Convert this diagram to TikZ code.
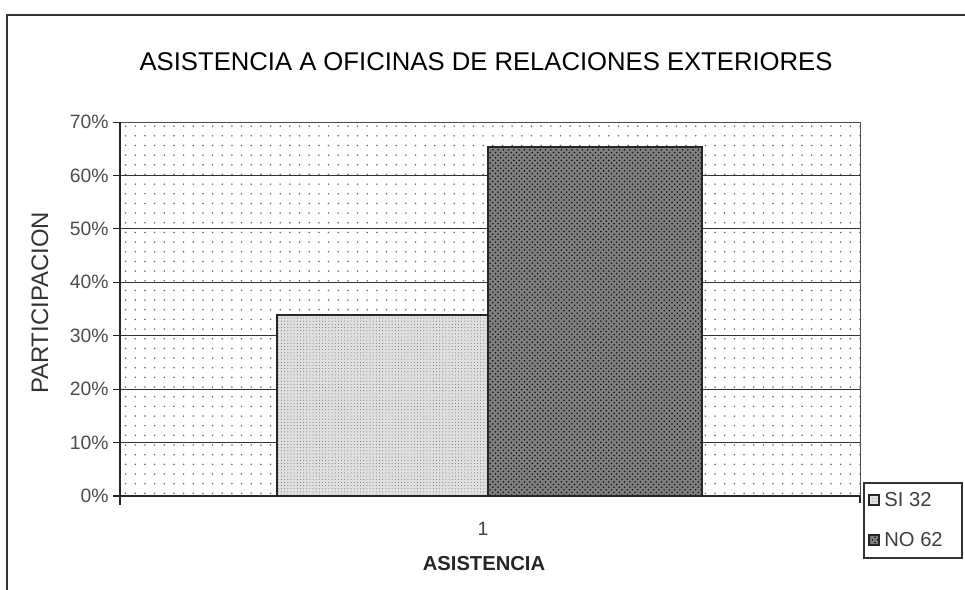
\documentclass[tikz,border=0pt]{standalone}
\usepackage{fontspec}
\setmainfont{Liberation Sans}
\usetikzlibrary{patterns,patterns.meta}

\tikzset{
  gridline/.style={draw=black!80, line width=0.5pt},
  ticklabel/.style={anchor=east, inner sep=0pt, text=black!70, font=\fontsize{11}{13}\selectfont},
  areafill/.style={pattern={Dots[distance=5.5pt, radius=0.5pt]}, pattern color=black!60},
  sibar/.style={draw=black!85, line width=0.6pt, preaction={fill=black!12},
    pattern={Dots[distance=1.8pt, radius=0.3pt]}, pattern color=black!55},
  nobar/.style={draw=black!85, line width=0.6pt, preaction={fill=black!50},
    pattern=crosshatch dots, pattern color=black!95},
  swatch/.style={draw=black!80, line width=0.5pt},
  legendtext/.style={anchor=west, inner sep=0pt, text=black!75, font=\fontsize{11.5}{13}\selectfont}
}

\begin{document}
\begin{tikzpicture}[x=0.02cm, y=-0.02cm]
  \useasboundingbox (0,0) rectangle (965,590);
  % chart frame (cut at right and bottom)
  \draw[black!80, line width=0.6pt] (7,590) -- (7,15) -- (965,15);

  \node (title) at (486,62) {\fontsize{14.6}{16}\selectfont ASISTENCIA A OFICINAS DE RELACIONES EXTERIORES};

  % plot area
  \fill[areafill] (120,122) rectangle (860,496);
  \foreach \p in {1,...,6} {
    \pgfmathsetmacro\yy{496-53.43*\p}
    \draw[gridline] (120,\yy) -- (860,\yy);
  }
  \draw[black!70, line width=0.5pt] (120,122) -- (860,122) -- (860,496);

  % bars
  \draw[sibar] (277,496) rectangle (488,315);
  \draw[nobar] (488,496) rectangle (702,147);

  % axes
  \draw[black!85, line width=0.6pt] (120,122) -- (120,505);
  \draw[black!85, line width=0.6pt] (113,496) -- (860,496);
  \draw[black!85, line width=0.6pt] (860,496) -- (860,503);
  \foreach \p in {0,...,7} {
    \pgfmathsetmacro\yy{496-53.43*\p}
    \pgfmathtruncatemacro\pct{10*\p}
    \draw[black!85] (113,\yy) -- (120,\yy);
    \node[ticklabel] (tick\p) at (109,\yy) {\pct\%};
  }

  \node[rotate=90, text=black!80, font=\fontsize{13.6}{15}\selectfont] (ylabel) at (40,303) {PARTICIPACION};
  \node[text=black!75, font=\fontsize{11}{13}\selectfont] (cat) at (483,529) {1};
  \node[font=\bfseries\fontsize{11.5}{13}\selectfont, text=black!85] (xlabel) at (484,564) {ASISTENCIA};

  % legend
  \draw[black!80, line width=0.6pt] (864,483) rectangle (962,558);
  \draw[swatch, sibar] (869,495) rectangle (879,505);
  \node[legendtext] (lsi) at (884,500) {SI 32};
  \draw[swatch, nobar] (869,535) rectangle (879,545);
  \node[legendtext] (lno) at (884,540) {NO 62};
\end{tikzpicture}
\end{document}
